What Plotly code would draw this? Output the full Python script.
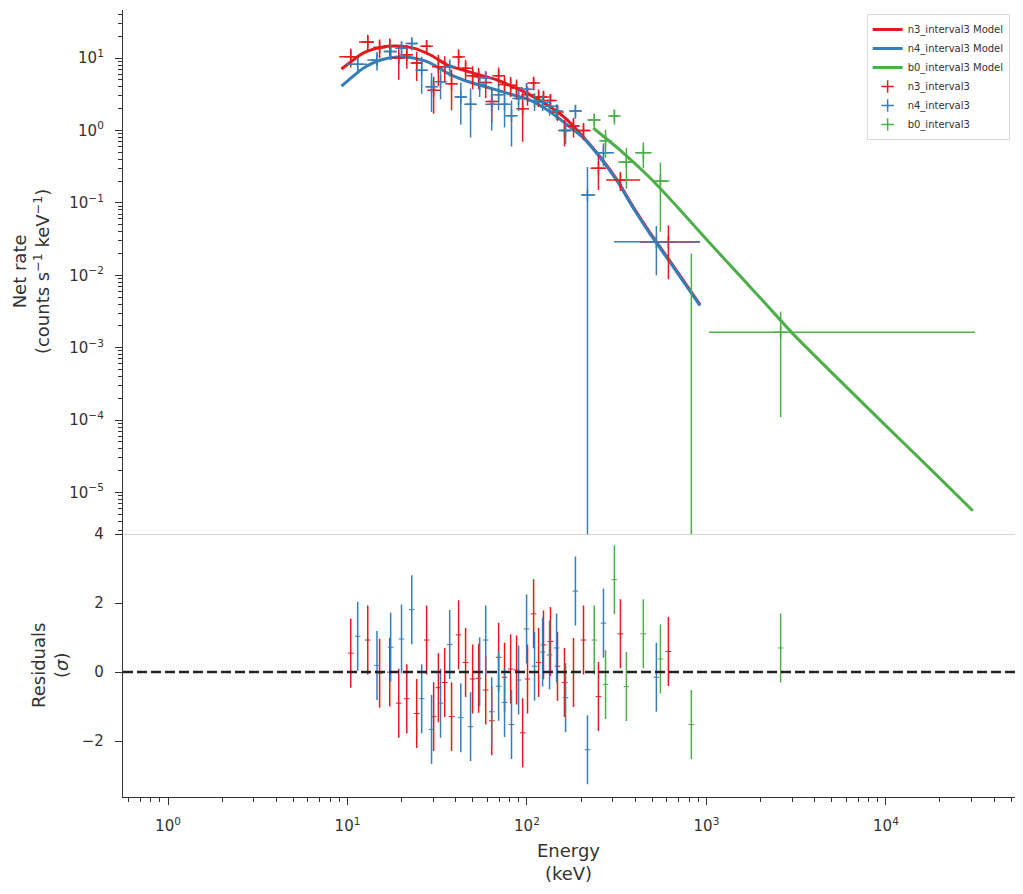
import numpy as np
import plotly.graph_objects as go
from plotly.subplots import make_subplots

RED, BLUE, GREEN = "#e41a1c", "#377eb8", "#4daf4a"

# ---------------- model curves (energy in keV, rate in counts/s/keV) ----------------
n3_model_energy = [9.26, 12.3, 15.3, 19.0, 23.3, 29.0, 36.0, 44.2, 55.0, 68.3, 84.0, 104,
                   135, 168, 206, 256, 318, 391, 486, 604, 741, 921]
n3_model_rate = [7.05, 11.8, 14.0, 14.6, 13.7, 11.0, 8.0, 6.8, 5.8, 4.97, 3.97, 3.1,
                 2.1, 1.39, 0.81, 0.43, 0.206, 0.0875, 0.0383, 0.0178, 0.0086, 0.0039]
n4_model_energy = [9.26, 12.3, 15.3, 19.0, 23.3, 29.0, 36.0, 44.2, 55.0, 68.3, 84.0, 104,
                   135, 168, 206, 256, 318, 391, 486, 604, 741, 921]
n4_model_rate = [4.1, 7.3, 9.4, 10.3, 10.0, 8.5, 6.2, 4.97, 4.2, 3.6, 3.08, 2.63,
                 1.8, 1.19, 0.79, 0.42, 0.2, 0.085, 0.037, 0.0172, 0.0083, 0.0038]
b0_model_energy = [234, 330, 486, 713, 1007, 1538, 2118, 3034, 5540, 9980, 17540, 30480]
b0_model_rate = [1.08, 0.536, 0.220, 0.0796, 0.0306, 0.0098, 4.13e-3, 1.55e-3, 3.5e-4,
                 8.4e-5, 2.15e-5, 5.6e-6]

# ---------------- n3 data ----------------
n3_energy = [10.43, 12.97, 15.1, 17.2, 19.3, 21.4, 24.3, 27.6, 30.2, 32.1, 34.8, 38.0,
             41.6, 45.5, 49.8, 53.8, 58.9, 63.6, 69.5, 75.0, 81.1, 87.5, 94.6, 100.7,
             108.9, 116.1, 123.6, 135.2, 147.9, 161.8, 181.6, 206.5, 250.2, 331.7, 613.8]
n3_edges = [9.0, 11.6, 14.0, 16.1, 18.2, 20.3, 22.8, 25.9, 28.9, 31.1, 33.4, 36.4, 39.8,
            43.5, 47.6, 51.8, 56.3, 61.2, 66.5, 72.2, 78.0, 84.2, 91.0, 97.6, 104.7,
            112.4, 119.8, 129.3, 141.4, 154.7, 171.4, 193.6, 226, 276, 427, 921]
n3_rate = [10.4, 16.6, 14.0, 14.6, 10.0, 11.1, 8.5, 14.5, 3.6, 7.6, 7.6, 4.4, 10.3, 7.2,
           5.7, 5.5, 4.6, 2.5, 5.7, 4.3, 4.2, 3.85, 2.0, 3.1, 4.5, 2.9, 2.9, 2.6, 1.8,
           1.0, 1.15, 1.0, 0.30, 0.206, 0.0288]
n3_err = [3.0, 4.3, 4.0, 4.0, 5.0, 4.0, 3.7, 3.0, 1.9, 3.5, 3.0, 2.5, 2.9, 2.2, 2.0, 1.8,
          1.8, 1.2, 1.7, 1.4, 1.3, 1.2, 1.3, 0.9, 0.9, 0.8, 0.6, 0.55, 0.45, 0.4, 0.35,
          0.27, 0.15, 0.06, 0.020]
n3_resid = [0.55, 0.93, -0.03, 0.0, -0.90, -0.77, -1.20, 0.93, -1.29, -0.45, -0.30, -1.29,
            1.08, 0.28, -0.20, -0.18, -0.52, -1.41, 0.43, -0.15, 0.09, 0.06, -1.76, -0.20,
            1.69, 0.28, 0.79, 0.89, 0.17, -0.30, -0.01, 0.93, -0.71, 1.11, 0.60]

# ---------------- n4 data ----------------
n4_energy = [11.4, 14.6, 17.4, 20.0, 22.8, 25.9, 29.4, 33.0, 37.1, 42.8, 48.5, 54.5, 58.9,
             63.6, 69.5, 75.0, 82.0, 89.8, 99.5, 110.2, 122.2, 133.6, 146.2, 164.1, 186.2,
             217.3, 266.8, 526]
n4_edges = [9.9, 12.9, 15.9, 18.7, 21.4, 24.3, 27.6, 31.1, 35.0, 39.8, 45.6, 51.4, 56.7,
            61.2, 66.5, 72.2, 78.4, 85.8, 94.5, 104.7, 116.0, 127.8, 139.8, 154.9, 174.8,
            201, 240, 305, 921]
n4_rate = [8.2, 9.4, 12.3, 13.6, 15.9, 6.8, 4.0, 4.7, 7.5, 2.9, 2.3, 4.3, 5.3, 2.3, 3.1,
           2.3, 1.6, 2.75, 3.7, 2.55, 2.45, 2.15, 1.85, 1.0, 1.85, 0.128, 0.49, 0.029]
n4_err = [1.8, 2.7, 3.0, 3.5, 3.2, 3.6, 2.2, 2.0, 2.0, 1.7, 1.5, 1.4, 1.3, 1.3, 1.2, 1.2,
          1.0, 0.9, 0.8, 0.7, 0.6, 0.55, 0.45, 0.35, 0.4, 0.185, 0.17, 0.019]
n4_resid = [1.04, 0.195, 0.72, 0.96, 1.81, -0.77, -1.66, -0.90, 0.80, -1.32, -1.58, 0.01,
            0.93, -1.15, -0.41, -0.88, -1.52, -0.23, 1.25, 0.17, 0.58, 0.50, 0.70, -0.74,
            2.35, -2.25, 1.42, -0.15]

# ---------------- b0 data ----------------
b0_energy = [237, 274, 307, 358, 445, 554, 824, 2590]
b0_edges = [217, 256, 289, 322, 400, 495, 623, 1034, 31270]
b0_rate = [1.39, 0.72, 1.58, 0.366, 0.49, 0.2, -0.045, 1.63e-3]
b0_err = [0.29, 0.30, 0.37, 0.21, 0.19, 0.16, 0.065, 1.52e-3]
b0_resid = [0.93, -0.36, 2.68, -0.42, 1.11, 0.38, -1.52, 0.70]

x_tick_vals = [1, 10, 100, 1000, 10000]
x_tick_text = ["10<sup>0</sup>", "10<sup>1</sup>", "10<sup>2</sup>", "10<sup>3</sup>", "10<sup>4</sup>"]
y_tick_vals = [1e-5, 1e-4, 1e-3, 1e-2, 1e-1, 1, 10]
y_tick_text = ["10<sup>\u22125</sup>", "10<sup>\u22124</sup>", "10<sup>\u22123</sup>",
               "10<sup>\u22122</sup>", "10<sup>\u22121</sup>", "10<sup>0</sup>", "10<sup>1</sup>"]
res_tick_vals = [-2, 0, 2, 4]

fig = make_subplots(rows=2, cols=1, shared_xaxes=True, vertical_spacing=0,
                    row_heights=[0.666, 0.334])

for name, E, R, c in [("n3_interval3 Model", n3_model_energy, n3_model_rate, RED),
                      ("n4_interval3 Model", n4_model_energy, n4_model_rate, BLUE)]:
    fig.add_trace(go.Scatter(x=E, y=R, mode="lines", name=name,
                             line=dict(color=c, width=3, shape="spline", smoothing=0.6)),
                  row=1, col=1)
fig.add_trace(go.Scatter(x=b0_model_energy, y=b0_model_rate, mode="lines",
                         name="b0_interval3 Model",
                         line=dict(color=GREEN, width=3, shape="spline", smoothing=0.4)),
              row=1, col=1)


def add_data(E, edges, R, S, resid, c, name):
    E = np.asarray(E, float)
    edges = np.asarray(edges, float)
    R = np.asarray(R, float)
    S = np.asarray(S, float)
    lo, hi = edges[:-1], edges[1:]
    ok = R > 0
    fig.add_trace(go.Scatter(
        x=E[ok], y=R[ok], mode="markers", name=name,
        marker=dict(symbol="cross-thin", size=9, color=c, line=dict(color=c, width=1.5)),
        error_x=dict(type="data", symmetric=False, array=(hi - E)[ok], arrayminus=(E - lo)[ok],
                     color=c, thickness=1.5, width=0),
        error_y=dict(type="data", symmetric=False, array=S[ok], arrayminus=S[ok],
                     color=c, thickness=1.5, width=0)), row=1, col=1)
    for e, r, s in zip(E[~ok], R[~ok], S[~ok]):
        fig.add_trace(go.Scatter(x=[e, e], y=[r + s, 1e-8], mode="lines",
                                 line=dict(color=c, width=1.5), showlegend=False,
                                 hoverinfo="skip"), row=1, col=1)
    fig.add_trace(go.Scatter(
        x=E, y=resid, mode="markers", showlegend=False,
        marker=dict(symbol="line-ew", size=4, color=c, line=dict(color=c, width=1)),
        error_y=dict(type="constant", value=1, color=c, thickness=1.5, width=0)),
        row=2, col=1)


add_data(n3_energy, n3_edges, n3_rate, n3_err, n3_resid, RED, "n3_interval3")
add_data(n4_energy, n4_edges, n4_rate, n4_err, n4_resid, BLUE, "n4_interval3")
add_data(b0_energy, b0_edges, b0_rate, b0_err, b0_resid, GREEN, "b0_interval3")

fig.add_shape(type="line", xref="x2 domain", x0=0, x1=1, yref="y2", y0=0, y1=0,
              line=dict(color="#222222", width=2.5, dash="10px,4px"))

AX = "#333333"
x_minor = [d * 10.0 ** k for k in range(-1, 5) for d in range(2, 10)]
y_minor = [d * 10.0 ** k for k in range(-6, 2) for d in range(2, 10)]
xrange = [-0.2507, 4.719]

fig.update_layout(
    width=1023, height=894,
    margin=dict(l=123, r=8, t=10, b=97, autoexpand=False),
    plot_bgcolor="white", paper_bgcolor="white",
    font=dict(family="DejaVu Sans", size=15, color=AX),
    showlegend=True,
    legend=dict(x=0.994, xanchor="right", y=0.995, yanchor="top", bgcolor="white",
                bordercolor="#d9d9d9", borderwidth=1, font=dict(size=10, color=AX),
                tracegroupgap=0, itemwidth=30),
    xaxis=dict(type="log", range=xrange, showticklabels=False, ticks="", showgrid=False,
               zeroline=False, showline=True, linecolor="#d5d5d5", linewidth=1,
               automargin=False),
    xaxis2=dict(type="log", range=xrange, tickvals=x_tick_vals, ticktext=x_tick_text,
                ticks="outside", ticklen=7, tickwidth=1.2, tickcolor=AX,
                showline=True, linecolor=AX, linewidth=1.3, showgrid=False, zeroline=False,
                ticklabelstandoff=8, automargin=False,
                minor=dict(tickmode="array", tickvals=x_minor, ticks="outside", ticklen=4,
                           tickwidth=0.9, tickcolor=AX, showgrid=False)),
    yaxis=dict(type="log", range=[-5.575, 1.663], tickvals=y_tick_vals, ticktext=y_tick_text,
               ticks="outside", ticklen=7, tickwidth=1.2, tickcolor=AX,
               showline=True, linecolor=AX, linewidth=1.3, showgrid=False, zeroline=False,
               ticklabelstandoff=8, automargin=False,
               minor=dict(tickmode="array", tickvals=y_minor, ticks="outside", ticklen=4,
                          tickwidth=0.9, tickcolor=AX, showgrid=False)),
    yaxis2=dict(range=[-3.62, 4.0], tickvals=res_tick_vals, ticks="outside", ticklen=7,
                tickwidth=1.2, tickcolor=AX, showline=True, linecolor=AX, linewidth=1.3,
                showgrid=False, zeroline=False, ticklabelstandoff=8, automargin=False),
)

fig.add_annotation(text="Net rate<br>(counts s<sup>\u22121</sup> keV<sup>\u22121</sup>)",
                   xref="paper", yref="paper", x=-0.1031, y=0.667, xanchor="center",
                   yanchor="middle", textangle=-90, showarrow=False, font=dict(size=18, color=AX))
fig.add_annotation(text="Residuals<br>(<i>\u03c3</i>)",
                   xref="paper", yref="paper", x=-0.0818, y=0.1665, xanchor="center",
                   yanchor="middle", textangle=-90, showarrow=False, font=dict(size=18, color=AX))
fig.add_annotation(text="Energy<br>(keV)", xref="paper", yref="paper", x=0.499, y=-0.0832,
                   xanchor="center", yanchor="middle", showarrow=False,
                   font=dict(size=18, color=AX))

fig.write_html("out.html")
